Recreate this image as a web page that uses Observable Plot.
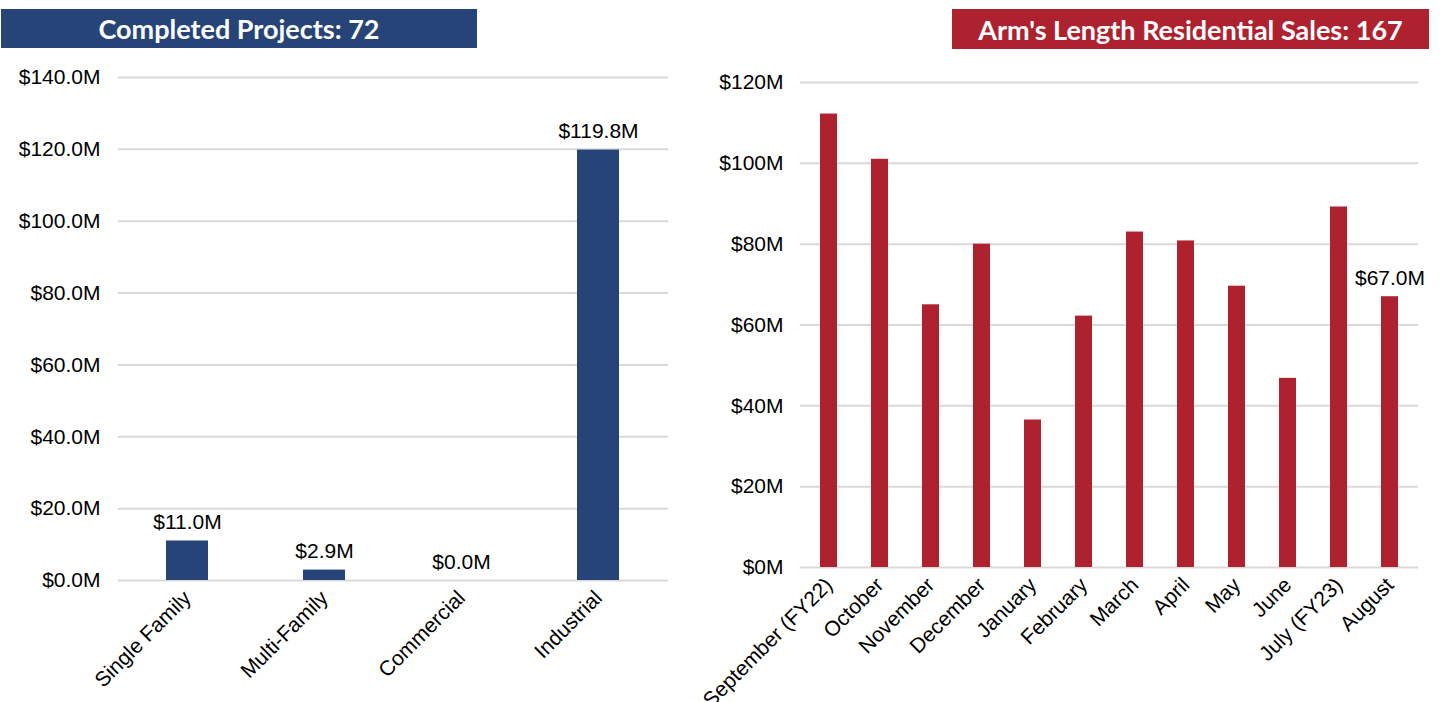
<!DOCTYPE html>
<html>
<head>
<meta charset="utf-8">
<script src="https://cdn.jsdelivr.net/npm/d3@7"></script>
<script src="https://cdn.jsdelivr.net/npm/@observablehq/plot@0.6"></script>
<style>
  html, body { margin: 0; padding: 0; background: #fff; }
  #wrap { position: relative; width: 1442px; height: 702px; overflow: hidden; font-family: "Liberation Sans", Arial, sans-serif; }
  .banner { position: absolute; color: #fff; font-family: Lato, "Open Sans", sans-serif; font-weight: 700; font-size: 27px; display: flex; align-items: center; justify-content: center; white-space: nowrap; }
  .chart { position: absolute; }
  .chart svg { overflow: visible; }
</style>
</head>
<body>
<div id="wrap">
  <div class="banner" id="b1" style="left:1px;top:9px;width:476px;height:39px;background:#264478;"></div>
  <div class="banner" id="b2" style="left:952px;top:9px;width:477px;height:40px;background:#ae222f;"></div>
  <div class="chart" id="c1" style="left:0px;top:56px;"></div>
  <div class="chart" id="c2" style="left:700px;top:56px;"></div>
</div>
<script>
// ---- Data ----
const projectTitle = "Completed Projects: 72";
const projectCategories = ["Single Family", "Multi-Family", "Commercial", "Industrial"];
const projectValues = [11.0, 2.9, 0.0, 119.8];
const projectTicks = [0, 20, 40, 60, 80, 100, 120, 140];

const salesTitle = "Arm's Length Residential Sales: 167";
const salesMonths = ["September (FY22)", "October", "November", "December", "January", "February", "March", "April", "May", "June", "July (FY23)", "August"];
const salesValues = [112.2, 101.0, 65.0, 80.0, 36.5, 62.2, 83.0, 80.8, 69.6, 46.8, 89.2, 67.0];
const salesTicks = [0, 20, 40, 60, 80, 100, 120];
const salesLabeled = ["August"];

const blue = "#264478";
const red = "#ae222f";
const grid = "#d9d9d9";
const font = "\"Liberation Sans\", Arial, sans-serif";

document.getElementById("b1").textContent = projectTitle;
document.getElementById("b2").textContent = salesTitle;

const projects = projectCategories.map((c, i) => ({category: c, value: projectValues[i]}));
const sales = salesMonths.map((m, i) => ({month: m, value: salesValues[i]}));

const chart1 = Plot.plot({
  width: 700,
  height: 646,
  marginLeft: 118,
  marginRight: 32,
  marginTop: 21,
  marginBottom: 122,
  style: {fontFamily: font, fontSize: "21px", color: "#000", background: "transparent"},
  x: {domain: projectCategories, paddingInner: 0.69, paddingOuter: 0.345, label: null},
  y: {domain: [0, 140], label: null},
  marks: [
    Plot.ruleY(projectTicks, {stroke: grid, strokeWidth: 2}),
    Plot.barY(projects, {x: "category", y: "value", fill: blue}),
    Plot.text(projects, {x: "category", y: "value", text: d => `$${d.value.toFixed(1)}M`, dy: -12, lineAnchor: "bottom", fontSize: 21, fill: "#000"}),
    Plot.axisY({ticks: projectTicks, tickFormat: d => `$${d.toFixed(1)}M`, tickSize: 0, tickPadding: 18, label: null, fontSize: 21}),
    Plot.axisX({tickRotate: -45, tickSize: 0, tickPadding: 14, label: null, fontSize: 21})
  ]
});
document.getElementById("c1").appendChild(chart1);

const chart2 = Plot.plot({
  width: 742,
  height: 646,
  marginLeft: 100,
  marginRight: 24,
  marginTop: 26,
  marginBottom: 135,
  style: {fontFamily: font, fontSize: "21px", color: "#000", background: "transparent"},
  x: {domain: salesMonths, paddingInner: 0.66, paddingOuter: 0.33, label: null},
  y: {domain: [0, 120], label: null},
  marks: [
    Plot.ruleY(salesTicks, {stroke: grid, strokeWidth: 2}),
    Plot.barY(sales, {x: "month", y: "value", fill: red}),
    Plot.text(sales.filter(d => salesLabeled.includes(d.month)), {x: "month", y: "value", text: d => `$${d.value.toFixed(1)}M`, dy: -12, lineAnchor: "bottom", fontSize: 21, fill: "#000"}),
    Plot.axisY({ticks: salesTicks, tickFormat: d => `$${d}M`, tickSize: 0, tickPadding: 17, label: null, fontSize: 21}),
    Plot.axisX({tickRotate: -45, tickSize: 0, tickPadding: 14, label: null, fontSize: 21})
  ]
});
document.getElementById("c2").appendChild(chart2);
</script>
</body>
</html>
